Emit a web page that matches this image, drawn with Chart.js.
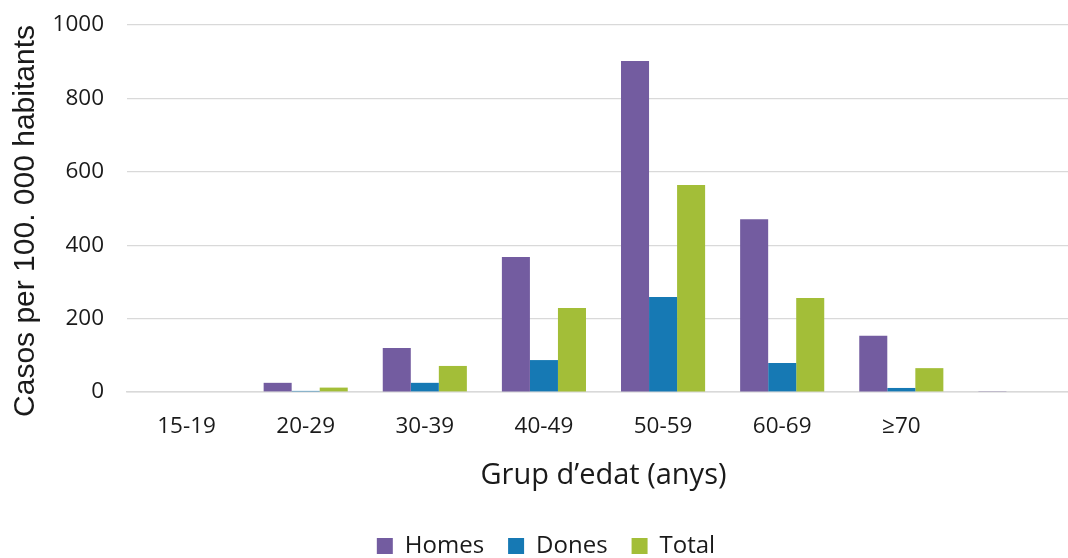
<!DOCTYPE html>
<html>
<head>
<meta charset="utf-8">
<script src="https://cdn.jsdelivr.net/npm/chart.js@4/dist/chart.umd.min.js"></script>
<style>
  html, body { margin: 0; padding: 0; background: #ffffff; overflow: hidden; }
  /* the plot runs slightly past the right edge of the page */
  #wrap { width: 1080px; height: 558px; }
</style>
</head>
<body>
<div id="wrap"><canvas id="chart"></canvas></div>
<script>
// Age groups (the last group has no label)
const categories = ['15-19', '20-29', '30-39', '40-49', '50-59', '60-69', '≥70', ''];

// Cases per 100,000 inhabitants
const homes = [0, 25, 120, 368, 902, 471, 153, 1];
const dones = [0, 3, 25, 87, 259, 79, 11, 0];
const total = [0, 12, 71, 229, 564, 256, 65, 0];

const yTicks = [0, 200, 400, 600, 800, 1000];

const COLORS = { homes: '#735ca0', dones: '#1679b4', total: '#a3be38' };
const GRID = '#d9d9d9';
const TEXT = '#1a1a1a';

new Chart(document.getElementById('chart'), {
  type: 'bar',
  data: {
    labels: categories,
    datasets: [
      { label: 'Homes', data: homes, backgroundColor: COLORS.homes },
      { label: 'Dones', data: dones, backgroundColor: COLORS.dones },
      { label: 'Total', data: total, backgroundColor: COLORS.total }
    ]
  },
  options: {
    responsive: true,
    maintainAspectRatio: false,
    animation: false,
    datasets: { bar: { categoryPercentage: 0.706, barPercentage: 1.0 } },
    layout: { padding: { top: 25, right: 0, bottom: 0, left: 12 } },
    plugins: {
      tooltip: { enabled: false },
      legend: {
        position: 'bottom',
        maxHeight: 48,
        labels: {
          color: TEXT,
          font: { family: 'Open Sans', size: 24 },
          boxWidth: 16,
          boxHeight: 16,
          padding: 24
        }
      }
    },
    scales: {
      x: {
        afterFit: (axis) => { axis.height = 118; },
        grid: { display: false, drawTicks: false },
        border: { display: true, color: GRID, width: 1.5 },
        ticks: { color: TEXT, font: { family: 'Open Sans', size: 22.5 }, padding: 21, maxRotation: 0 },
        title: {
          display: true,
          text: 'Grup d’edat (anys)',
          color: TEXT,
          font: { family: 'Open Sans', size: 29 },
          padding: { top: 8, bottom: 17 }
        }
      },
      y: {
        min: 0,
        max: 1000,
        afterFit: (axis) => {
          axis.width = 115;
          axis.paddingTop = 0;
          axis.paddingBottom = 0;
        },
        afterBuildTicks: (axis) => { axis.ticks = yTicks.map(v => ({ value: v })); },
        grid: { color: GRID, drawTicks: false, lineWidth: 1.2 },
        border: { display: false },
        ticks: {
          color: TEXT,
          font: { family: 'Open Sans', size: 22.5 },
          padding: 23,
          callback: (v) => String(v)
        },
        title: {
          display: true,
          text: 'Casos per 100. 000 habitants   ',
          color: TEXT,
          font: { family: 'Liberation Sans', size: 30 },
          padding: { top: -4, bottom: 0 }
        }
      }
    }
  }
});
</script>
</body>
</html>
